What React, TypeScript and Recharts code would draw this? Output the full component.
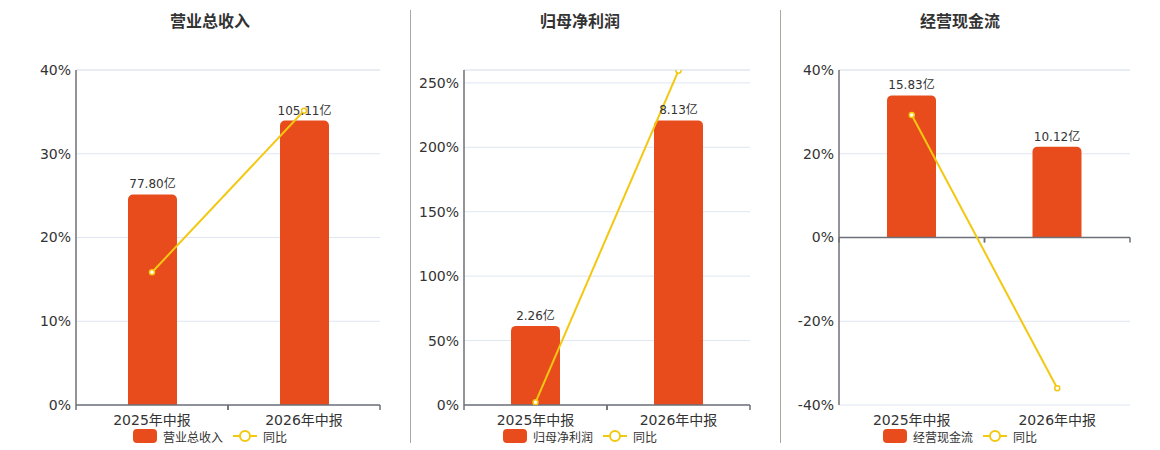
import React from 'react';
import { ComposedChart, Bar, Line, XAxis, YAxis, CartesianGrid, LabelList, ReferenceLine } from 'recharts';

const periods = ['2025年中报', '2026年中报'];

const revenue = [77.8, 105.11];
const revenueYoy = [15.85, 35.14];
const netProfit = [2.26, 8.13];
const netProfitYoy = [2.1, 259.5];
const cashFlow = [15.83, 10.12];
const cashFlowYoy = [29.25, -36.0];

const revenueTicks = [0, 10, 20, 30, 40];
const profitTicks = [0, 50, 100, 150, 200, 250];
const cashTicks = [-40, -20, 0, 20, 40];

const BAR = '#E84C1C';
const LINE = '#F2C811';
const GRID = '#E0E6F1';
const AXIS = '#6E7079';
const TEXT = '#333';
const FONT = '"DejaVu Sans", "Noto Sans CJK SC", sans-serif';

const CHART_H = 442;
const TOP = 62;
const BOTTOM = 15;
const X_H = 30;
const PLOT_H = CHART_H - TOP - BOTTOM - X_H;

const makeRows = (vals: number[], yoy: number[]) =>
  periods.map((p, i) => ({ period: p, value: vals[i], yoy: yoy[i] }));

const CatTick = (props: any) => {
  const { x, y, payload, bw, markOffset } = props;
  const ay = y + markOffset;
  return (
    <g>
      <line x1={x - bw / 2} x2={x - bw / 2} y1={ay} y2={ay + 5} stroke={AXIS} strokeWidth={1.5} />
      <line x1={x + bw / 2} x2={x + bw / 2} y1={ay} y2={ay + 5} stroke={AXIS} strokeWidth={1.5} />
      <text x={x} y={y + 20} textAnchor="middle" fontSize={14} fill={TEXT} fontFamily={FONT}>
        {payload.value}
      </text>
    </g>
  );
};

const LegendRow = ({ name, center }: { name: string; center: number }) => (
  <div
    style={{
      position: 'absolute',
      top: 420,
      left: center - 100,
      width: 200,
      height: 16,
      display: 'flex',
      justifyContent: 'center',
      alignItems: 'center',
      fontSize: 12,
      color: TEXT,
      fontFamily: FONT,
    }}
  >
    <svg width={24} height={14} style={{ marginRight: 6 }}>
      <rect x={0} y={0} width={24} height={14} rx={4} fill={BAR} />
    </svg>
    <span style={{ marginRight: 10 }}>{name}</span>
    <svg width={24} height={14} style={{ marginRight: 6 }}>
      <line x1={0} x2={24} y1={7} y2={7} stroke={LINE} strokeWidth={2} />
      <circle cx={12} cy={7} r={5} fill="#fff" stroke={LINE} strokeWidth={2} />
    </svg>
    <span>同比</span>
  </div>
);

type PanelProps = {
  title: string;
  name: string;
  vals: number[];
  yoy: number[];
  pctDomain: [number, number];
  pctTicks: number[];
  barDomain: [number, number];
  left: number;
  width: number;
  yWidth: number;
  mLeft: number;
  mRight: number;
  center: number;
};

const Panel = (p: PanelProps) => {
  const data = makeRows(p.vals, p.yoy);
  const plotW = p.width - p.mLeft - p.mRight - p.yWidth;
  const bw = plotW / periods.length;
  const [lo, hi] = p.pctDomain;
  const zeroShift = lo < 0 ? -PLOT_H * (0 - lo) / (hi - lo) : 0;
  return (
    <>
      <div
        style={{
          position: 'absolute',
          top: 4,
          left: p.center - 100,
          width: 200,
          textAlign: 'center',
          fontSize: 16,
          fontWeight: 'bold',
          lineHeight: '20px',
          color: TEXT,
          fontFamily: FONT,
        }}
      >
        {p.title}
      </div>
      <div style={{ position: 'absolute', top: 0, left: p.left }}>
        <ComposedChart
          width={p.width}
          height={CHART_H}
          data={data}
          margin={{ top: TOP, right: p.mRight, bottom: BOTTOM, left: p.mLeft }}
        >
          <CartesianGrid vertical={false} stroke={GRID} yAxisId="pct" />
          <XAxis
            dataKey="period"
            height={X_H}
            interval={0}
            tickSize={0}
            tickMargin={0}
            tickLine={false}
            axisLine={lo < 0 ? false : { stroke: AXIS, strokeWidth: 1.5 }}
            tick={(tp: any) => <CatTick {...tp} bw={bw} markOffset={zeroShift} />}
          />
          <YAxis
            yAxisId="pct"
            orientation="left"
            width={p.yWidth}
            domain={p.pctDomain}
            ticks={p.pctTicks}
            interval={0}
            allowDataOverflow
            tickLine={false}
            tickSize={0}
            tickMargin={5}
            axisLine={{ stroke: AXIS, strokeWidth: 1.5 }}
            tickFormatter={(v: number) => `${v}%`}
            tick={{ fontSize: 14, fill: TEXT, fontFamily: FONT }}
          />
          <YAxis yAxisId="bar" orientation="right" width={0} hide domain={p.barDomain} allowDataOverflow />
          <ReferenceLine yAxisId="pct" y={hi} stroke={GRID} />
          {lo < 0 && <ReferenceLine yAxisId="pct" y={0} stroke={AXIS} strokeWidth={1.5} />}
          <Bar
            yAxisId="bar"
            dataKey="value"
            fill={BAR}
            barSize={49}
            radius={[5, 5, 0, 0]}
            isAnimationActive={false}
          >
            <LabelList
              dataKey="value"
              position="top"
              offset={6}
              formatter={(v: any) => `${Number(v).toFixed(2)}亿`}
              style={{ fontSize: 12, fill: TEXT, fontFamily: FONT }}
            />
          </Bar>
          <Line
            yAxisId="pct"
            dataKey="yoy"
            stroke={LINE}
            strokeWidth={2}
            dot={{ r: 2.5, fill: '#fff', stroke: LINE, strokeWidth: 1.5 }}
            activeDot={false}
            isAnimationActive={false}
          />
        </ComposedChart>
      </div>
      <LegendRow name={p.name} center={p.center} />
    </>
  );
};

const Divider = ({ x }: { x: number }) => (
  <div style={{ position: 'absolute', left: x, top: 2, width: 1, height: 433, background: '#A9A9A0' }} />
);

export default function App() {
  return (
    <div style={{ position: 'relative', width: 1144, height: 442, fontFamily: FONT }}>
      <Panel
        title="营业总收入"
        name="营业总收入"
        vals={revenue}
        yoy={revenueYoy}
        pctDomain={[0, 40]}
        pctTicks={revenueTicks}
        barDomain={[0, 123.8]}
        left={0}
        width={402}
        yWidth={60}
        mLeft={8}
        mRight={30}
        center={202}
      />
      <Divider x={402} />
      <Panel
        title="归母净利润"
        name="归母净利润"
        vals={netProfit}
        yoy={netProfitYoy}
        pctDomain={[0, 260]}
        pctTicks={profitTicks}
        barDomain={[0, 9.57]}
        left={403}
        width={369}
        yWidth={50}
        mLeft={3}
        mRight={30}
        center={572}
      />
      <Divider x={772} />
      <Panel
        title="经营现金流"
        name="经营现金流"
        vals={cashFlow}
        yoy={cashFlowYoy}
        pctDomain={[-40, 40]}
        pctTicks={cashTicks}
        barDomain={[-18.66, 18.66]}
        left={773}
        width={371}
        yWidth={55}
        mLeft={3}
        mRight={22}
        center={952}
      />
    </div>
  );
}
